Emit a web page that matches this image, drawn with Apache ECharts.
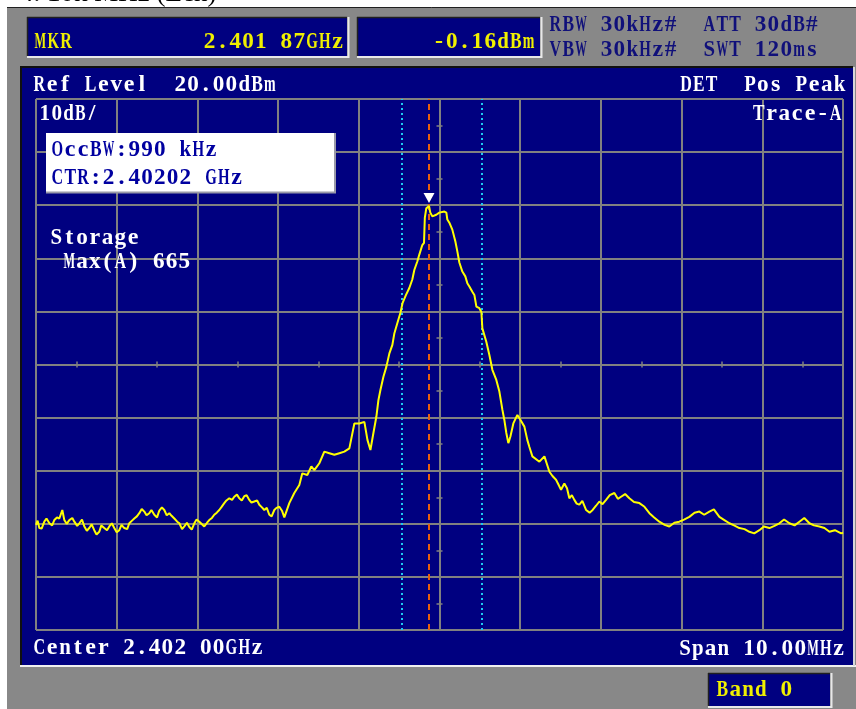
<!DOCTYPE html>
<html>
<head>
<meta charset="utf-8">
<script src="https://cdn.jsdelivr.net/npm/echarts@6/dist/echarts.min.js"></script>
<style>
html,body{margin:0;padding:0;background:#fff;}
#chart{width:856px;height:709px;}
</style>
</head>
<body>
<div id="chart"></div>
<script>
// ---- data: [frequency offset from 2.402 GHz centre (MHz), level (dBm)] ----
const CENTER_GHZ = 2.402;
const spectrumTrace = [
 [-5.000,-60.2],[-4.980,-59.4],[-4.959,-60.8],[-4.930,-60.9],[-4.897,-59.6],[-4.870,-59.0],[-4.834,-59.9],[-4.800,-60.3],
 [-4.773,-59.3],[-4.740,-58.8],[-4.711,-59.0],[-4.674,-57.4],[-4.649,-59.3],[-4.620,-60.0],[-4.587,-59.3],[-4.550,-58.9],
 [-4.525,-59.6],[-4.490,-60.4],[-4.463,-59.9],[-4.430,-59.2],[-4.401,-60.5],[-4.370,-61.3],[-4.340,-60.8],[-4.310,-60.1],
 [-4.278,-61.2],[-4.250,-62.0],[-4.216,-61.5],[-4.190,-60.3],[-4.154,-60.8],[-4.120,-61.2],[-4.092,-60.5],[-4.060,-59.9],
 [-4.030,-60.8],[-4.000,-61.6],[-3.968,-61.2],[-3.940,-60.2],[-3.906,-60.8],[-3.870,-61.0],[-3.844,-59.9],[-3.810,-59.4],
 [-3.782,-59.0],[-3.750,-58.6],[-3.720,-58.0],[-3.690,-57.2],[-3.658,-57.7],[-3.630,-58.4],[-3.596,-58.0],[-3.570,-57.4],
 [-3.534,-58.3],[-3.500,-58.8],[-3.472,-57.5],[-3.440,-56.9],[-3.410,-57.4],[-3.380,-58.4],[-3.348,-58.0],[-3.320,-58.5],
 [-3.286,-59.0],[-3.250,-59.6],[-3.224,-59.9],[-3.190,-61.0],[-3.162,-60.5],[-3.130,-59.8],[-3.100,-60.6],[-3.070,-61.1],
 [-3.038,-59.9],[-3.010,-59.2],[-2.976,-59.6],[-2.950,-60.0],[-2.915,-60.5],[-2.880,-59.8],[-2.853,-59.3],[-2.820,-58.9],
 [-2.791,-58.3],[-2.760,-57.9],[-2.729,-57.4],[-2.700,-56.8],[-2.667,-56.1],[-2.640,-55.6],[-2.605,-55.2],[-2.570,-55.5],
 [-2.543,-54.9],[-2.510,-54.5],[-2.481,-55.2],[-2.450,-55.6],[-2.419,-54.8],[-2.390,-54.6],[-2.357,-55.5],[-2.330,-56.0],
 [-2.295,-55.8],[-2.260,-55.6],[-2.233,-56.4],[-2.200,-56.9],[-2.171,-57.4],[-2.140,-57.0],[-2.109,-58.3],[-2.080,-58.6],
 [-2.047,-57.4],[-2.020,-57.0],[-1.985,-56.8],[-1.950,-57.6],[-1.923,-58.8],[-1.861,-56.1],[-1.799,-54.2],[-1.737,-52.7],
 [-1.700,-50.5],[-1.638,-50.8],[-1.588,-49.2],[-1.551,-49.9],[-1.489,-48.6],[-1.427,-46.4],[-1.365,-46.7],[-1.303,-47.0],
 [-1.241,-46.7],[-1.179,-46.4],[-1.117,-45.8],[-1.055,-41.1],[-0.993,-41.1],[-0.931,-40.8],[-0.893,-44.2],[-0.856,-46.1],
 [-0.819,-42.9],[-0.782,-39.8],[-0.757,-36.7],[-0.732,-34.8],[-0.695,-32.3],[-0.658,-30.4],[-0.621,-27.9],[-0.584,-26.3],
 [-0.559,-24.1],[-0.522,-22.2],[-0.485,-20.3],[-0.457,-18.4],[-0.415,-16.9],[-0.374,-15.6],[-0.337,-14.0],[-0.312,-12.2],
 [-0.275,-10.6],[-0.250,-9.3],[-0.213,-7.5],[-0.192,-7.1],[-0.182,-2.4],[-0.164,-0.6],[-0.130,-0.16],[-0.114,-1.4],
 [-0.089,-2.1],[-0.040,-1.8],[-0.002,-1.4],[0.060,-1.2],[0.085,-1.4],[0.097,-2.7],[0.122,-3.3],[0.159,-4.6],
 [0.196,-6.8],[0.221,-8.7],[0.246,-10.8],[0.283,-12.5],[0.320,-13.4],[0.345,-14.7],[0.370,-15.3],[0.407,-16.3],
 [0.432,-16.9],[0.457,-19.1],[0.494,-19.4],[0.519,-20.1],[0.531,-23.2],[0.580,-25.7],[0.618,-28.2],[0.655,-31.0],
 [0.704,-32.9],[0.742,-35.1],[0.779,-38.5],[0.803,-40.4],[0.828,-42.9],[0.853,-44.8],[0.878,-43.6],[0.915,-41.1],
 [0.965,-39.5],[1.002,-40.4],[1.052,-41.7],[1.088,-44.2],[1.113,-45.5],[1.151,-47.3],[1.238,-48.3],[1.300,-47.3],
 [1.362,-50.2],[1.400,-51.0],[1.444,-51.7],[1.480,-52.8],[1.506,-53.6],[1.547,-52.4],[1.580,-53.3],[1.609,-55.2],
 [1.640,-54.6],[1.671,-55.5],[1.700,-56.2],[1.733,-56.4],[1.770,-55.7],[1.816,-57.4],[1.860,-57.9],[1.898,-57.4],
 [1.940,-56.6],[1.981,-55.8],[2.020,-56.3],[2.064,-55.5],[2.110,-54.6],[2.167,-54.2],[2.210,-55.3],[2.250,-54.9],
 [2.300,-54.4],[2.353,-55.2],[2.410,-55.9],[2.477,-56.1],[2.540,-56.8],[2.601,-58.0],[2.660,-58.8],[2.724,-59.6],
 [2.790,-60.2],[2.848,-60.5],[2.910,-59.8],[2.972,-59.6],[3.030,-59.2],[3.096,-58.7],[3.160,-57.9],[3.220,-57.7],
 [3.280,-58.3],[3.344,-57.7],[3.400,-57.3],[3.468,-58.7],[3.530,-59.3],[3.592,-59.9],[3.650,-60.3],[3.716,-60.8],
 [3.780,-61.0],[3.840,-61.5],[3.900,-61.8],[3.964,-61.2],[4.020,-60.5],[4.088,-60.8],[4.150,-60.4],[4.212,-59.9],
 [4.270,-59.2],[4.336,-59.9],[4.400,-60.3],[4.460,-59.6],[4.520,-58.9],[4.584,-59.9],[4.640,-60.3],[4.708,-60.5],
 [4.770,-60.8],[4.832,-61.5],[4.900,-61.2],[4.977,-61.8],[5.000,-61.7]
];
const markerOffsetMHz = [-0.13];
const markerLevelDbm = [-0.16];
const occBwEdgesMHz = [-0.475, 0.515];
const xTicks = { min: -5, max: 5, step: 1, minorStep: 0.5 };
const yTicks = { min: -80, max: 20, step: 10, minorStep: 5 };

// ---- chart ----
const chart = echarts.init(document.getElementById('chart'), null, { renderer: 'canvas' });
const NAVY = '#000080';
const GRIDC = '#808080';
const FONT = 'bold 24px "Liberation Serif", "DejaVu Serif", serif';
const PITCH = 12.8;
const measureCtx = document.createElement('canvas').getContext('2d');
measureCtx.font = FONT;

// monospaced "bitmap-like" text: one glyph per fixed-width cell
function txt(t, x, y, color, align, pitch) {
  pitch = pitch || PITCH;
  const x0 = align === 'right' ? x - t.length * pitch : x;
  const children = [];
  t.split('').forEach(function (c, i) {
    if (c === ' ') return;
    const w = measureCtx.measureText(c).width;
    const sx = Math.min(1, (pitch - 1.2) / w);
    children.push({
      type: 'text', z: 100, x: x0 + (i + 0.5) * pitch, y: y, scaleX: sx,
      style: { text: c, x: 0, y: 0, fill: color, font: FONT,
        textAlign: 'center', textVerticalAlign: 'middle', align: 'center', verticalAlign: 'middle' }
    });
  });
  return { type: 'group', z: 100, children: children };
}
function rect(x, y, w, h, fill, z) {
  return { type: 'rect', z: z, shape: { x: x, y: y, width: w, height: h }, style: { fill: fill } };
}
function line(x1, y1, x2, y2, color, w, z) {
  return { type: 'line', z: z, shape: { x1: x1, y1: y1, x2: x2, y2: y2 }, style: { stroke: color, lineWidth: w } };
}
function sunkBox(x, y, w, h) {
  return [
    rect(x, y, w, h, NAVY, -5),
    line(x, y + 0.5, x + w, y + 0.5, '#202020', 1.5, -4),
    line(x + 0.5, y, x + 0.5, y + h, '#202020', 1.5, -4),
    line(x, y + h + 1, x + w + 2, y + h + 1, '#e8e8e8', 2, -4),
    line(x + w + 1.5, y, x + w + 1.5, y + h + 2, '#e8e8e8', 2, -4)
  ];
}

const graphics = [
  rect(7, 7, 849, 702, '#888888', -20),
  line(7, 7.5, 856, 7.5, '#202020', 1, -19),
  { type: 'text', z: -30, style: { text: '4. 10k MHz (Ech)', x: 20, y: -20, fill: '#000',
    font: '27px "Liberation Serif", serif', textVerticalAlign: 'top', verticalAlign: 'top' } },
  // main screen panel
  rect(20, 67, 833, 598, NAVY, -10),
  line(20, 67, 853, 67, '#101010', 2, -9),
  line(21, 67, 21, 665, '#101010', 2, -9),
  line(20, 666, 856, 666, '#f0f0f0', 2, -9),
  line(854, 67, 854, 666, '#d8d8d8', 2, -9),
  // header boxes
  ...sunkBox(27, 17, 320, 39),
  ...sunkBox(357, 17, 183, 39),
  ...sunkBox(708, 673, 122, 33),
  txt('MKR', 34, 42, '#f0f000'),
  txt('2.401 87GHz', 344, 42, '#f0f000', 'right'),
  txt('-0.16dBm', 535, 42, '#f0f000', 'right'),
  txt('RBW 30kHz#', 549, 25, '#10107a'),
  txt('VBW 30kHz#', 549, 50, '#10107a'),
  txt('ATT 30dB#', 703, 25, '#10107a'),
  txt('SWT 120ms', 703, 50, '#10107a'),
  txt('Band 0', 716, 690, '#f0f000'),
  // panel annotations
  txt('Ref Level  20.00dBm', 33, 85, '#ffffff'),
  txt('DET  Pos Peak', 846, 85, '#ffffff', 'right'),
  txt('10dB/', 39, 114, '#ffffff', 'left', 11.8),
  txt('Trace-A', 842, 114, '#ffffff', 'right'),
  txt('Storage', 50, 238, '#ffffff'),
  txt(' Max(A) 665', 50, 262, '#ffffff'),
  txt('Center 2.402 00GHz', 33, 648, '#ffffff'),
  txt('Span 10.00MHz', 845, 649, '#ffffff', 'right'),
  // OccBW box
  rect(46, 133, 289, 60, '#ffffff', 90),
  line(46, 192.5, 336, 192.5, '#9a9aa8', 2, 91),
  line(335, 133, 335, 193, '#9a9aa8', 2, 91),
  txt('OccBW:990 kHz', 51, 150, '#0000a0'),
  txt('CTR:2.40202 GHz', 51, 178, '#0000a0')
];

const hiddenAxisBits = { axisLabel: { show: false }, splitLine: { show: false }, axisLine: { show: false } };
function centerX(inside) {
  return Object.assign({ type: 'value', gridIndex: 0, min: xTicks.min, max: xTicks.max, interval: xTicks.minorStep,
    position: 'bottom', offset: -265.5,
    axisTick: { show: true, inside: inside, length: 3, lineStyle: { color: GRIDC, width: 1.5 } } }, hiddenAxisBits);
}
function centerY(inside) {
  return Object.assign({ type: 'value', gridIndex: 0, min: yTicks.min, max: yTicks.max, interval: yTicks.minorStep,
    position: 'left', offset: -403.5,
    axisTick: { show: true, inside: inside, length: 3, lineStyle: { color: GRIDC, width: 1.5 } } }, hiddenAxisBits);
}

const option = {
  backgroundColor: '#ffffff',
  animation: false,
  graphic: { elements: graphics },
  grid: { left: 36, top: 99, width: 807, height: 531, containLabel: false },
  xAxis: [
    { type: 'value', min: xTicks.min, max: xTicks.max, interval: xTicks.step,
      axisLine: { show: false }, axisTick: { show: false }, axisLabel: { show: false },
      splitLine: { show: true, showMinLine: true, showMaxLine: true, lineStyle: { color: GRIDC, width: 2 } } },
    centerX(false), centerX(true)
  ],
  yAxis: [
    { type: 'value', min: yTicks.min, max: yTicks.max, interval: yTicks.step,
      axisLine: { show: false }, axisTick: { show: false }, axisLabel: { show: false },
      splitLine: { show: true, showMinLine: true, showMaxLine: true, lineStyle: { color: GRIDC, width: 2 } } },
    centerY(false), centerY(true)
  ],
  series: [{
    type: 'line', xAxisIndex: 0, yAxisIndex: 0,
    data: spectrumTrace, showSymbol: false, symbol: 'none', z: 5,
    lineStyle: { color: '#ffff00', width: 2 },
    markLine: {
      silent: true, symbol: ['none', 'none'], label: { show: false }, animation: false,
      data: [
        { xAxis: occBwEdgesMHz[0], lineStyle: { color: '#1ec8f0', width: 2, type: [2, 3] } },
        { xAxis: occBwEdgesMHz[1], lineStyle: { color: '#1ec8f0', width: 2, type: [2, 3] } },
        { xAxis: markerOffsetMHz[0], lineStyle: { color: '#e8600a', width: 2, type: [6, 4] } }
      ]
    },
    markPoint: {
      silent: true, symbol: 'triangle', symbolRotate: 180, symbolSize: [11, 10], symbolOffset: [0, -8],
      itemStyle: { color: '#ffffff' }, label: { show: false },
      data: [{ coord: [markerOffsetMHz[0], markerLevelDbm[0]] }]
    }
  }]
};
chart.setOption(option);
</script>
</body>
</html>
